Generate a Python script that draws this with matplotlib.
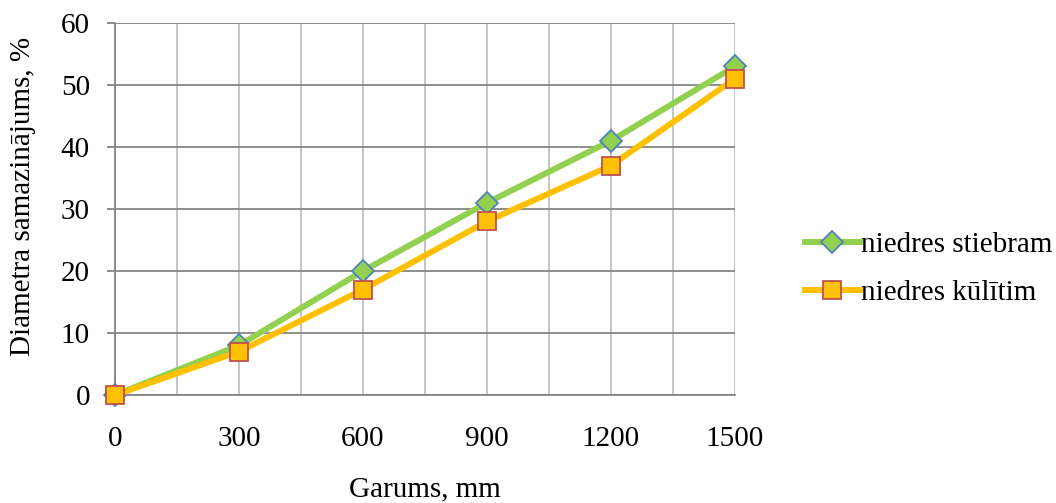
import numpy as np
import matplotlib.pyplot as plt
import matplotlib
from matplotlib.ticker import MultipleLocator

matplotlib.rcParams.update({
    "font.family": ["Liberation Serif", "DejaVu Serif"],
    "font.size": 21,
})

garums = [0, 300, 600, 900, 1200, 1500]
stiebram = [0, 8, 20, 31, 41, 53]
kulitim = [0, 7, 17, 28, 37, 51]

fig = plt.figure(figsize=(10.56, 5.03), dpi=100)
ax = fig.add_axes([0.1089, 0.2147, 0.587, 0.7396])

ax.plot(garums, stiebram, color="#92D050", linewidth=4.3, marker="D",
        markersize=11, markerfacecolor="#92D050", markeredgecolor="#4F81BD",
        markeredgewidth=1.3, label="niedres stiebram", zorder=3, clip_on=False)
ax.plot(garums, kulitim, color="#FFC000", linewidth=4.3, marker="s",
        markersize=13, markerfacecolor="#FFC000", markeredgecolor="#C0504D",
        markeredgewidth=1.3, label="niedres kūlītim", zorder=4, clip_on=False)

ax.set_xlim(0, 1500)
ax.set_ylim(0, 60)
ax.xaxis.set_major_locator(MultipleLocator(300))
ax.xaxis.set_minor_locator(MultipleLocator(150))
ax.yaxis.set_major_locator(MultipleLocator(10))

ax.grid(axis="y", which="major", color="#868686", linewidth=1.3, zorder=0)
ax.grid(axis="x", which="both", color="#BFBFBF", linewidth=1.3, zorder=0)

for side in ["top", "right"]:
    ax.spines[side].set_visible(False)
ax.spines["left"].set_color("#868686")
ax.spines["bottom"].set_color("#868686")
ax.spines["left"].set_linewidth(1.3)
ax.spines["bottom"].set_linewidth(1.3)

ax.tick_params(axis="y", direction="out", length=6, width=1.3, color="#868686", pad=12)
ax.tick_params(axis="x", which="both", length=0, pad=22)

ax.set_xlabel("Garums, mm", labelpad=18)
ax.set_ylabel("Diametra samazinājums, %")
ax.yaxis.set_label_coords(-0.128, 0.535)

ax.legend(loc="center left", bbox_to_anchor=(1.07, 0.339), frameon=False,
          handlelength=1.9, handletextpad=0.05, labelspacing=0.75,
          fontsize=21)

fig.savefig("out.png", dpi=100)
